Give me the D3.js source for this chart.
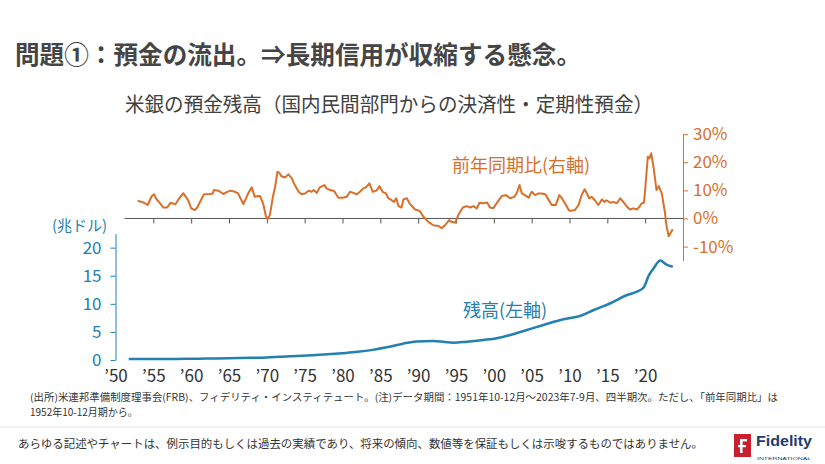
<!DOCTYPE html>
<html><head><meta charset="utf-8">
<script src="https://cdn.jsdelivr.net/npm/d3@7"></script>
<style>
html,body{margin:0;padding:0;background:#fff;}
svg{display:block;font-family:"Noto Sans CJK JP","Noto Sans",sans-serif;}
</style></head>
<body>
<svg id="c" width="825" height="464"></svg>
<script>
// ---- data ----
const depositYears = [1951.75,1953,1955,1957,1958,1960,1962,1965,1968,1970,1972,1974,1976,1978,1980,1982,1984,1986,1988,1989.8,1992,1993.5,1994.65,1996.4,1998.6,2000.4,2002.15,2004.35,2006.55,2009.2,2011.4,2013.2,2015.4,2017.6,2018.9,2019.8,2020.5,2021.1,2022.0,2022.8,2023.65];
const depositValues = [0.16,0.17,0.18,0.19,0.18,0.22,0.26,0.33,0.40,0.46,0.58,0.72,0.85,1.02,1.22,1.45,1.8,2.3,2.9,3.3,3.38,3.2,3.08,3.26,3.56,3.86,4.45,5.34,6.23,7.24,7.83,8.9,10.1,11.57,12.16,12.9,15.1,16.3,17.7,17.0,16.6];

const yoyYears = [1952.93,1953.7,1954.25,1954.8,1955.1,1955.4,1955.9,1956.3,1956.8,1957.3,1957.9,1958.4,1958.95,1959.3,1959.6,1960.0,1960.5,1960.8,1961.4,1961.7,1962.5,1962.85,1963.0,1963.6,1964.25,1964.7,1965.2,1965.8,1966.2,1966.9,1967.5,1968.0,1968.4,1968.9,1969.1,1969.5,1969.9,1970.1,1970.4,1970.8,1971.1,1971.4,1971.65,1971.9,1972.4,1972.85,1973.3,1973.7,1974.2,1974.6,1975.05,1975.5,1975.9,1976.2,1976.6,1977.0,1977.6,1977.9,1978.35,1978.9,1979.45,1980.0,1980.55,1981.0,1981.4,1981.9,1982.3,1982.75,1983.1,1983.55,1984.0,1984.5,1984.9,1985.3,1985.75,1986.05,1986.5,1986.8,1987.1,1987.4,1987.8,1988.05,1988.5,1988.9,1989.6,1990.2,1990.7,1991.35,1992.0,1992.7,1993.1,1993.55,1994.1,1994.4,1994.9,1995.3,1995.9,1996.4,1996.9,1997.3,1997.75,1998.1,1998.6,1999.1,1999.5,1999.9,2000.5,2001.05,2001.6,2002.15,2002.7,2003.0,2003.4,2003.7,2004.1,2004.6,2005.0,2005.45,2005.9,2006.3,2006.8,2007.2,2007.65,2008.2,2008.65,2009.0,2009.4,2009.9,2010.1,2010.7,2011.2,2011.6,2012.0,2012.3,2012.6,2012.95,2013.4,2013.8,2014.3,2014.6,2014.9,2015.4,2015.8,2016.25,2016.7,2017.1,2017.6,2018.0,2018.45,2018.9,2019.25,2019.55,2019.85,2020.1,2020.35,2020.55,2020.8,2021.1,2021.5,2021.8,2022.2,2022.6,2022.8,2023.1,2023.45,2023.65];
const yoyValues = [6.3,5.7,4.8,8.0,8.6,6.9,5.4,3.9,3.9,5.6,5.0,7.1,9.0,7.7,6.5,3.6,3.0,3.9,7.1,8.6,8.7,8.9,10.1,9.9,8.7,9.4,9.9,9.5,8.9,5.1,8.7,11.1,7.7,8.0,8.0,5.4,0.6,-0.2,1.2,7.7,11.3,16.6,16.3,15.1,14.6,15.7,14.3,11.9,9.5,8.6,8.9,9.9,9.5,10.1,9.1,11.1,11.9,10.7,10.1,9.8,7.4,7.4,7.7,9.5,9.1,8.6,9.5,10.7,11.1,12.5,9.5,9.9,11.5,9.5,8.9,7.2,6.5,5.9,7.2,4.4,3.9,6.8,7.2,5.2,3.2,2.7,0.6,-1.2,-2.4,-2.7,-3.5,-2.4,-0.6,-1.2,-1.5,1.2,3.9,4.4,3.9,4.4,3.6,5.6,5.4,5.7,3.9,3.6,5.9,8.0,8.3,7.2,7.7,8.9,11.9,8.9,8.3,7.4,9.5,8.3,8.9,8.9,8.6,6.8,4.8,4.8,8.3,7.2,5.4,3.0,2.7,3.0,4.8,8.3,10.4,8.9,7.2,7.7,6.3,4.8,6.8,5.9,6.5,5.6,5.9,5.4,7.2,5.9,4.2,3.2,3.6,3.2,4.2,5.4,5.6,13.7,22.0,21.4,23.2,18.4,10.1,11.5,8.9,2.4,-2.3,-6.3,-4.7,-3.9];

const xTickYears = [1950,1955,1960,1965,1970,1975,1980,1985,1990,1995,2000,2005,2010,2015,2020];
const xTickLabels = ["’50","’55","’60","’65","’70","’75","’80","’85","’90","’95","’00","’05","’10","’15","’20"];
const leftTicks = [0,5,10,15,20];
const rightTicks = [-10,0,10,20,30];

// ---- styles ----
const ORANGE = "#D86F2A";
const BLUE = "#2380B1";
const FONT = "'Noto Sans CJK JP','Noto Sans',sans-serif";
const svg = d3.select("#c");

const x = d3.scaleLinear().domain([1950,2025]).range([115.5,683]);
const yL = d3.scaleLinear().domain([0,22.5]).range([360,233.6]);
const yR = d3.scaleLinear().domain([-15,30]).range([260.6,134.2]);

// titles
svg.append("text").attr("x",15).attr("y",64).attr("font-size",25).attr("font-weight",700)
  .attr("fill","#454545").attr("textLength",566).attr("lengthAdjust","spacingAndGlyphs")
  .text("問題①：預金の流出。⇒長期信用が収縮する懸念。");
svg.append("text").attr("x",125).attr("y",112).attr("font-size",20).attr("fill","#404040")
  .attr("textLength",528).attr("lengthAdjust","spacingAndGlyphs")
  .text("米銀の預金残高（国内民間部門からの決済性・定期性預金）");

// upper x axis (0% line)
const gTop = svg.append("g").attr("transform",`translate(0,${yR(0)})`)
  .call(d3.axisBottom(x).tickValues(xTickYears.slice(1)).tickFormat("").tickSize(5).tickSizeOuter(0));
gTop.select(".domain").remove();
gTop.selectAll(".tick line").attr("stroke","#555");
svg.append("line").attr("x1",x(1951.2)).attr("x2",x(2025)).attr("y1",yR(0)).attr("y2",yR(0))
  .attr("stroke","#555").attr("stroke-width",1);

// right axis
const gR = svg.append("g").attr("transform",`translate(${x(2025)},0)`)
  .call(d3.axisRight(yR).tickValues(rightTicks).tickFormat(d=>d+"%").tickSize(5).tickSizeOuter(0).tickPadding(5));
gR.select(".domain").attr("stroke",ORANGE);
gR.selectAll(".tick line").attr("stroke",ORANGE);
gR.selectAll(".tick text").attr("fill",ORANGE).attr("font-size",17).attr("font-family",FONT);

// left axis
const gL = svg.append("g").attr("transform",`translate(${x(1950)},0)`)
  .call(d3.axisLeft(yL).tickValues(leftTicks).tickSize(5).tickSizeOuter(0).tickPadding(9));
gL.select(".domain").attr("stroke",BLUE);
gL.selectAll(".tick line").attr("stroke",BLUE);
gL.selectAll(".tick text").attr("fill",BLUE).attr("font-size",17).attr("font-family",FONT);

// bottom x labels
const gB = svg.append("g").attr("transform","translate(0,370)")
  .call(d3.axisBottom(x).tickValues(xTickYears).tickFormat((d,i)=>xTickLabels[i]).tickSize(0).tickPadding(0));
gB.select(".domain").remove();
gB.selectAll(".tick text").attr("fill","#333").attr("font-size",17).attr("font-family",FONT);

// unit label
svg.append("text").attr("x",52).attr("y",231).attr("font-size",15).attr("fill",BLUE).text("(兆ドル)");

// lines
const yoy = yoyYears.map((d,i)=>[d,yoyValues[i]]);
const dep = depositYears.map((d,i)=>[d,depositValues[i]]);
svg.append("path").datum(yoy).attr("fill","none").attr("stroke",ORANGE).attr("stroke-width",2)
  .attr("stroke-linejoin","round")
  .attr("d",d3.line().x(d=>x(d[0])).y(d=>yR(d[1])));
svg.append("path").datum(dep).attr("fill","none").attr("stroke",BLUE).attr("stroke-width",2.5)
  .attr("stroke-linejoin","round")
  .attr("d",d3.line().curve(d3.curveMonotoneX).x(d=>x(d[0])).y(d=>yL(d[1])));

// series labels
svg.append("text").attr("x",452).attr("y",172).attr("font-size",18).attr("fill",ORANGE)
  .text("前年同期比(右軸)");
svg.append("text").attr("x",463).attr("y",317).attr("font-size",18).attr("fill",BLUE)
  .text("残高(左軸)");

// footnotes
svg.append("text").attr("x",30).attr("y",401).attr("font-size",10).attr("fill","#333")
  .attr("textLength",748).attr("lengthAdjust","spacingAndGlyphs")
  .text("(出所)米連邦準備制度理事会(FRB)、フィデリティ・インスティテュート。(注)データ期間：1951年10-12月～2023年7-9月、四半期次。ただし、「前年同期比」は");
svg.append("text").attr("x",30).attr("y",416).attr("font-size",10).attr("fill","#333")
  .text("1952年10-12月期から。");

svg.append("line").attr("x1",0).attr("x2",825).attr("y1",427).attr("y2",427).attr("stroke","#e2e2e2");
svg.append("text").attr("x",18).attr("y",448).attr("font-size",11.5).attr("fill","#333")
  .attr("textLength",685).attr("lengthAdjust","spacingAndGlyphs")
  .text("あらゆる記述やチャートは、例示目的もしくは過去の実績であり、将来の傾向、数値等を保証もしくは示唆するものではありません。");

// logo
svg.append("rect").attr("x",734).attr("y",434).attr("width",17).attr("height",23).attr("fill","#C8202F");
const fMark = svg.append("g").attr("fill","#fff");
fMark.append("rect").attr("x",740).attr("y",439).attr("width",2.6).attr("height",14);
fMark.append("rect").attr("x",740).attr("y",439).attr("width",7).attr("height",2.4);
fMark.append("rect").attr("x",738).attr("y",445).attr("width",8).attr("height",2.2);
svg.append("text").attr("x",756).attr("y",446).attr("font-size",14.5).attr("font-weight",700)
  .attr("fill","#1E3D6B").attr("font-family","'Liberation Sans','Roboto',sans-serif")
  .attr("textLength",56).attr("lengthAdjust","spacingAndGlyphs").text("Fidelity");
svg.append("text").attr("x",757).attr("y",460).attr("font-size",4).attr("fill","#1E3D6B")
  .attr("font-family","'Liberation Sans',sans-serif")
  .attr("textLength",54).attr("lengthAdjust","spacingAndGlyphs").text("INTERNATIONAL");
</script>
</body></html>
